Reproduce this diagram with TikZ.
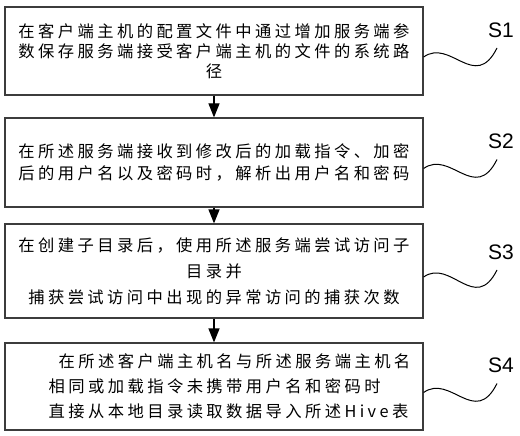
\documentclass[tikz,border=0pt]{standalone}
\usepackage{fontspec}
\usepackage{tikz}
\usetikzlibrary{calc,arrows.meta,positioning}
\newfontfamily\cjk[LetterSpace=21]{Noto Sans CJK SC}
\newfontfamily\labfont{Liberation Sans}
\definecolor{boxgray}{RGB}{60, 60, 60}
\tikzset{>={Triangle[length=14pt,width=11pt]}}
\tikzset{stepbox/.style={draw=boxgray, line width=1.2pt, minimum width=418pt, inner sep=0pt, align=center, font=\cjk\fontsize{16.3pt}{20pt}\selectfont}}
\tikzset{steplab/.style={inner sep=0pt, font=\labfont\fontsize{21pt}{24pt}\selectfont}}

\begin{document}
\begin{tikzpicture}[x=1pt, y=-1pt]
\useasboundingbox (0,0) rectangle (520,436);
% steps
\node[stepbox, minimum height=88pt] (step1) at (214, 51) {在客户端主机的配置文件中通过增加服务端参\\数保存服务端接受客户端主机的文件的系统路\\径};
\node[stepbox, minimum height=89pt, font=\cjk\fontsize{16.3pt}{22pt}\selectfont] (step2) at (214, 162.5) {在所述服务端接收到修改后的加载指令、加密\\后的用户名以及密码时，解析出用户名和密码};
\node[stepbox, minimum height=94pt, font=\cjk\fontsize{16.3pt}{26pt}\selectfont] (step3) at (214, 271) {在创建子目录后，使用所述服务端尝试访问子\\目录并\\捕获尝试访问中出现的异常访问的捕获次数};
\node[stepbox, minimum height=87pt, align=left, font=\cjk\fontsize{16.3pt}{25pt}\selectfont] (step4) at (214, 386.5) {\hspace*{41pt}在所述客户端主机名与所述服务端主机名\\\hspace*{31pt}相同或加载指令未携带用户名和密码时\\\hspace*{31pt}直接从本地目录读取数据导入所述Hive表};

% labels
\node[steplab] (lab1) at (501, 30) {S1};
\node[steplab] (lab2) at (501, 141.5) {S2};
\node[steplab] (lab3) at (501, 252) {S3};
\node[steplab] (lab4) at (501, 365.5) {S4};

\draw[->, line width=1.2pt] (step1) -- (step2);
\draw[->, line width=1.2pt] (step2) -- (step3);
\draw[->, line width=1.2pt] (step3) -- (step4);

\foreach \i in {1,...,4}
  \draw[line width=1pt] ([yshift=-6pt]step\i.east) .. controls +(27,-19) and +(-22,44) .. ([xshift=-4pt,yshift=-18pt]lab\i.center);

\end{tikzpicture}
\end{document}
